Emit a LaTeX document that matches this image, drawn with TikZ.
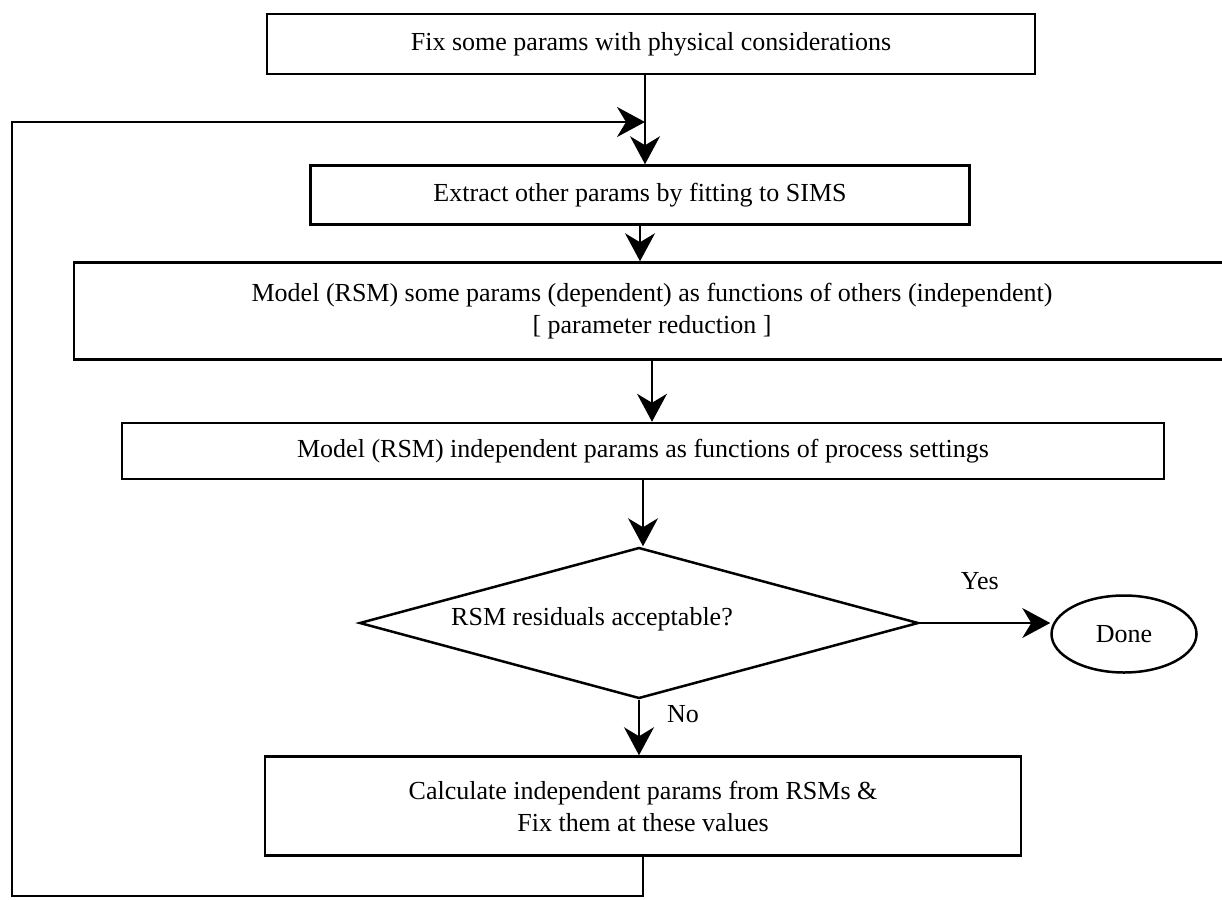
\documentclass[tikz,border=0pt]{standalone}
\usepackage{fontspec}
\setmainfont{Liberation Serif}
\usetikzlibrary{shapes.geometric,arrows.meta}

\begin{document}
\begin{tikzpicture}[x=1pt,y=-1pt,
    every node/.style={font=\fontsize{26pt}{32pt}\selectfont},
    box/.style={draw,line width=2.5pt,inner sep=0pt,align=center},
    flow/.style={->,line width=1.6pt},
    >={Stealth[length=28pt,width=30pt,inset=9pt]}]
  \useasboundingbox (0,0) rectangle (1222,899);
  % steps
  \node[box,minimum width=768pt,minimum height=60pt] (fix) at (651,44) {Fix some params with physical considerations};
  \node[box,minimum width=659pt,minimum height=59pt] (extract) at (640,195) {Extract other params by fitting to SIMS};
  \node[box,minimum width=1156pt,minimum height=97pt] (dep) at (652,311) {Model (RSM) some params (dependent) as functions of others (independent)\\{[} parameter reduction ]};
  \node[box,minimum width=1042pt,minimum height=56pt] (indep) at (643,451) {Model (RSM) independent params as functions of process settings};
  \node[draw,diamond,line width=2.5pt,inner sep=0pt,aspect=3.7,minimum width=559pt,minimum height=151pt,
    label={[xshift=-47pt,yshift=4pt]center:RSM residuals acceptable?}] (check) at (639,623) {};
  \node[draw,ellipse,line width=2.5pt,inner sep=0pt,minimum width=145pt,minimum height=77pt] (done) at (1124,634) {Done};
  \node[box,minimum width=756pt,minimum height=99pt] (calc) at (643,806) {Calculate independent params from RSMs \&\\Fix them at these values};
  % loop back
  \coordinate (join) at (645,122);
  \coordinate (loopsw) at (12,896);
  \draw[line width=1.6pt] (fix.south -| join) -- (join);
  \draw[flow] (join) -- (join |- extract.north);
  \draw[flow] (extract.south) -- (extract.south |- dep.north);
  \draw[flow] (dep.south) -- (dep.south |- indep.north);
  \draw[flow] (indep.south) -- (indep.south |- check.north);
  \draw[flow] (check.east) -- (check.east -| done.west) node[pos=0.46,yshift=42pt] {Yes};
  \draw[flow] (check.south) -- (check.south |- calc.north) node[pos=0.25,right=24pt] {No};
  \draw[->,line width=2pt] (calc.south) |- (loopsw) |- (join);
\end{tikzpicture}
\end{document}
